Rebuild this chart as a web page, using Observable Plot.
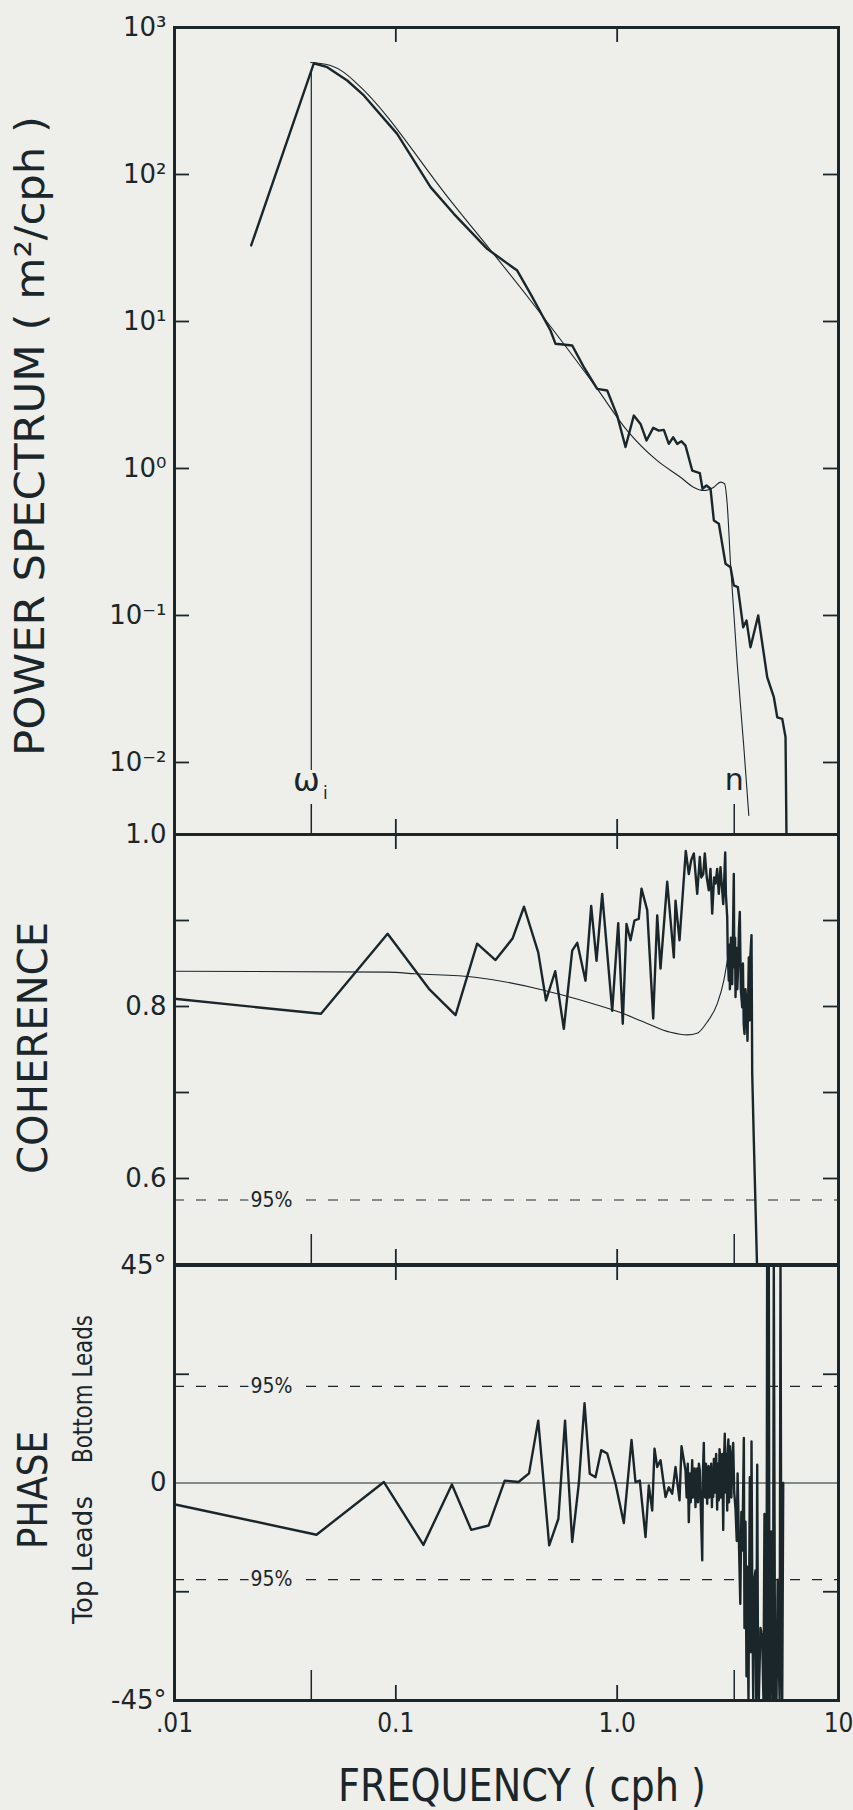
<!DOCTYPE html>
<html>
<head>
<meta charset="utf-8">
<script src="https://cdn.jsdelivr.net/npm/d3@7"></script>
<script src="https://cdn.jsdelivr.net/npm/@observablehq/plot@0.6"></script>
<style>
html, body { margin: 0; padding: 0; background: #eeeeea; }
#wrap { position: relative; width: 853px; height: 1810px; overflow: hidden; background: #eeeeea; }
</style>
</head>
<body>
<div id="wrap"></div>
<script>
// ---------------- data ----------------
// Power spectrum, observed (thick): [frequency cph, m^2/cph]
const spectrumObserved = [
  [0.0222, 32.9], [0.0426, 571], [0.0490, 537], [0.0603, 436], [0.0717, 345],
  [0.1014, 189], [0.1435, 82], [0.1828, 54], [0.2587, 31.2], [0.3535, 22.2],
  [0.406, 15.4], [0.4998, 8.68], [0.5266, 7.05], [0.6264, 6.87], [0.7070, 4.89],
  [0.8126, 3.48], [0.9016, 3.39], [1.0004, 2.29], [1.0906, 1.40], [1.189, 2.29],
  [1.275, 2.01], [1.357, 1.55], [1.455, 1.89], [1.542, 1.81], [1.625, 1.83],
  [1.711, 1.47], [1.792, 1.63], [1.867, 1.47], [1.953, 1.53], [2.036, 1.43],
  [2.183, 0.968], [2.363, 0.929], [2.430, 0.728], [2.533, 0.766], [2.641, 0.728],
  [2.734, 0.443], [2.880, 0.421], [3.087, 0.225], [3.252, 0.213], [3.365, 0.160],
  [3.509, 0.156], [3.711, 0.0832], [3.840, 0.0925], [4.003, 0.0608], [4.337, 0.1],
  [4.764, 0.0380], [5.104, 0.0278], [5.288, 0.0203], [5.569, 0.0198], [5.763, 0.0149],
  [5.823, 0.003]
];
// Power spectrum, model (thin)
const spectrumModel = [
  [0.0412, 578], [0.0507, 551], [0.0580, 497], [0.0669, 414], [0.1766, 66.5],
  [0.406, 13.9], [0.813, 3.48], [1.110, 1.81], [1.517, 1.13], [1.933, 0.872],
  [2.213, 0.746], [2.462, 0.708], [2.733, 0.746], [2.930, 0.807], [3.055, 0.787],
  [3.141, 0.575], [3.251, 0.226], [3.486, 0.0471], [3.735, 0.0127], [3.934, 0.00436]
];
// Coherence, observed (thick)
const coherenceObserved = [
  [0.01, 0.809], [0.0459, 0.7915], [0.0918, 0.8845], [0.1411, 0.8206], [0.1861, 0.790],
  [0.2330, 0.873], [0.2820, 0.854], [0.3367, 0.879], [0.3794, 0.916], [0.4399, 0.863],
  [0.4770, 0.807], [0.5250, 0.841], [0.5741, 0.774], [0.6264, 0.865], [0.6600, 0.874],
  [0.7194, 0.830], [0.7632, 0.917], [0.8067, 0.853], [0.8557, 0.931], [0.9497, 0.795],
  [1.011, 0.897], [1.060, 0.780], [1.102, 0.896], [1.149, 0.877], [1.197, 0.900],
  [1.252, 0.902], [1.288, 0.937], [1.367, 0.912], [1.455, 0.786], [1.517, 0.906],
  [1.570, 0.844], [1.683, 0.945], [1.803, 0.857], [1.835, 0.923], [1.913, 0.877],
  [2.042, 0.981], [2.107, 0.954], [2.160, 0.970], [2.220, 0.978], [2.299, 0.931],
  [2.363, 0.974], [2.400, 0.950], [2.448, 0.954], [2.489, 0.978], [2.540, 0.950],
  [2.594, 0.935], [2.640, 0.960], [2.688, 0.908], [2.740, 0.950], [2.782, 0.943],
  [2.830, 0.960], [2.879, 0.931], [2.930, 0.962], [3.014, 0.919], [3.040, 0.940],
  [3.077, 0.979], [3.100, 0.930], [3.142, 0.904], [3.160, 0.860], [3.194, 0.830],
  [3.215, 0.872], [3.230, 0.820], [3.252, 0.835], [3.265, 0.880], [3.280, 0.870],
  [3.295, 0.830], [3.309, 0.826], [3.330, 0.870], [3.365, 0.954], [3.380, 0.860],
  [3.400, 0.845], [3.410, 0.880], [3.425, 0.811], [3.450, 0.850], [3.470, 0.868],
  [3.490, 0.820], [3.523, 0.850], [3.550, 0.890], [3.582, 0.910], [3.620, 0.820],
  [3.673, 0.799], [3.700, 0.850], [3.730, 0.780], [3.761, 0.768], [3.800, 0.820],
  [3.840, 0.799], [3.880, 0.760], [3.934, 0.857], [3.955, 0.790], [3.975, 0.784],
  [4.000, 0.860], [4.046, 0.883], [4.075, 0.722], [4.144, 0.644], [4.218, 0.567],
  [4.293, 0.49]
];
// Coherence, model (thin)
const coherenceModel = [
  [0.01, 0.841], [0.0918, 0.840], [0.1223, 0.838], [0.2277, 0.834], [0.4658, 0.819],
  [0.5546, 0.814], [0.7842, 0.803], [1.035, 0.793], [1.319, 0.782], [1.742, 0.770],
  [2.073, 0.767], [2.299, 0.769], [2.551, 0.782], [2.831, 0.803], [3.032, 0.830],
  [3.151, 0.855]
];
// Phase (degrees)
const phaseObserved = [
  [0.0102, -4.5], [0.04381, -10.7], [0.08834, 0.2], [0.1332, -12.8], [0.1792, -0.3],
  [0.2191, -9.7], [0.2625, -8.8], [0.3104, 0.5], [0.3583, 0.2], [0.3997, 2.0],
  [0.4399, 12.9], [0.4931, -12.9], [0.5426, -7.4], [0.5814, 12.9], [0.6264, -12.2],
  [0.6711, -0.1], [0.7121, 16.5], [0.7522, 1.9], [0.7982, 1.2], [0.8474, 6.8],
  [0.9016, 6.1], [0.9829, -0.1], [1.0715, -8.3], [1.161, 8.9], [1.210, 0.2],
  [1.266, 0.5], [1.343, -11.2], [1.390, -0.5], [1.440, -5.7], [1.475, 7.1],
  [1.517, 3.3], [1.570, 4.7], [1.654, -2.9], [1.711, -0.9], [1.773, -2.2],
  [1.835, 3.3], [1.913, -3.6], [1.953, 7.6], [2.036, 2.6], [2.060, -3.0],
  [2.085, 4.0], [2.107, -8.1], [2.130, 2.0], [2.150, -4.0], [2.183, 4.7],
  [2.200, -3.0], [2.220, -2.0], [2.240, 3.0], [2.259, -5.0], [2.280, 1.0],
  [2.300, 3.0], [2.320, -4.0], [2.340, 4.0], [2.363, 2.6], [2.390, -6.0],
  [2.423, -16.0], [2.440, 2.0], [2.463, 8.3], [2.480, -2.0], [2.500, -3.0],
  [2.520, 4.0], [2.551, -4.3], [2.570, 3.0], [2.590, 3.5], [2.610, -3.0],
  [2.641, 0.5], [2.660, 4.0], [2.680, -5.0], [2.700, 3.0], [2.716, -2.9],
  [2.735, 5.0], [2.750, 5.0], [2.765, -2.0], [2.782, 3.3], [2.800, 6.0],
  [2.830, -5.5], [2.850, 4.0], [2.879, -3.6], [2.900, 7.0], [2.920, 5.5],
  [2.940, -3.0], [2.961, 3.8], [2.985, 6.0], [3.014, -9.7], [3.040, 5.0],
  [3.064, 10.2], [3.080, 2.0], [3.100, -2.0], [3.120, 6.0], [3.142, -5.7],
  [3.160, 7.0], [3.180, 9.0], [3.200, -4.0], [3.227, 7.6], [3.250, 3.0],
  [3.280, -3.0], [3.310, 6.0], [3.343, 8.3], [3.380, -2.0], [3.425, -5.3],
  [3.470, -12.0], [3.500, 2.0], [3.545, -11.2], [3.600, -25.0], [3.640, -6.0],
  [3.680, -14.0], [3.735, 9.3], [3.760, -30.0], [3.800, -8.0], [3.840, -40.0],
  [3.869, -17.3], [3.920, -45], [3.975, 1.2], [4.010, -35.0], [4.046, 8.6],
  [4.080, -25.0], [4.119, -45], [4.160, -20.0], [4.218, -18.1], [4.250, -45],
  [4.293, 3.8], [4.330, -40.0], [4.365, -45], [4.440, -30.0], [4.521, -31.9],
  [4.580, -45], [4.630, -6.4], [4.680, -45], [4.727, -45], [4.760, 45],
  [4.800, -45], [4.842, 45], [4.880, -45], [4.929, -45], [4.970, -10.0],
  [5.017, -25.0], [5.060, -45], [5.101, 45], [5.170, -45], [5.247, -45],
  [5.310, -20.0], [5.375, -36.7], [5.420, -45], [5.470, 45], [5.520, -30.0],
  [5.569, -45], [5.627, 0]
];

// Reference marks
const OMEGA_I = 0.0415;        // inertial frequency
const OMEGA_TOP = 494;         // where the omega_i line meets the spectrum
const N_FREQ = 3.38;           // buoyancy frequency
const COH_95 = 0.575;          // 95% coherence level
const PHASE_95 = [20, -20];    // 95% phase levels
const LABEL_95_FREQ = 0.0274;

// Scales and tick labels
const X_DOMAIN = [0.01, 10];
const xTickValues = [0.01, 0.1, 1, 10];
const xTickLabels = [".01", "0.1", "1.0", "10"];
const xFrameTicks = [0.1, 1];
const xMarkTicks = [OMEGA_I, N_FREQ];

const specDomain = [Math.pow(10, -2.49), 1000];
const specTicks = [0.01, 0.1, 1, 10, 100];
const specLabelValues = [1000, 100, 10, 1, 0.1, 0.01];
const specLabelText = ["10³", "10²", "10¹", "10⁰", "10⁻¹", "10⁻²"];

const cohDomain = [0.5, 1.0];
const cohTicks = [0.6, 0.7, 0.8, 0.9];
const cohLabelValues = [1.0, 0.8, 0.6];
const cohLabelText = ["1.0", "0.8", "0.6"];

const phaseDomain = [-45, 45];
const phaseTicks = [-22.5, 22.5];
const phaseLabelValues = [45, 0, -45];
const phaseLabelText = ["45°", "0", "-45°"];

// ---------------- style ----------------
const INK = "#1b262b";
const BG = "#eeeeea";
const W = 853, ML = 174, MR = 15;
const innerW = W - ML - MR;
const SANS = "'DejaVu Sans', 'Liberation Sans', sans-serif";
const COND = "'DejaVu Sans Condensed', 'Liberation Sans Narrow', 'DejaVu Sans', sans-serif";

const wrap = document.getElementById("wrap");

function panel({top, height, marginTop, marginBottom, y, yTicks, labelValues, labelText, marks, xAxis}) {
  const innerH = height - marginTop - marginBottom;
  const fmt = d => labelText[labelValues.indexOf(d)];
  const xfmt = d => xTickLabels[xTickValues.indexOf(d)];
  const svg = Plot.plot({
    width: W, height, marginTop, marginBottom, marginLeft: ML, marginRight: MR,
    x: {type: "log", domain: X_DOMAIN, axis: null},
    y: {...y, axis: null},
    style: {position: "absolute", left: "0px", top: top + "px", background: "transparent",
            overflow: "visible", color: INK, fontFamily: SANS},
    marks: [
      ...marks,
      Plot.tickY(yTicks, {y: d => d, insetRight: innerW - 15, stroke: INK, strokeWidth: 1.8}),
      Plot.tickY(yTicks, {y: d => d, insetLeft: innerW - 15, stroke: INK, strokeWidth: 1.8}),
      Plot.tickX(xFrameTicks, {x: d => d, insetBottom: innerH - 15, stroke: INK, strokeWidth: 1.8}),
      Plot.tickX(xFrameTicks, {x: d => d, insetTop: innerH - 15, stroke: INK, strokeWidth: 1.8}),
      Plot.tickX(xMarkTicks, {x: d => d, insetTop: innerH - 30, stroke: INK, strokeWidth: 1.5}),
      Plot.axisY(labelValues, {tickSize: 0, tickPadding: 8, tickFormat: fmt, fontSize: 26,
                               fontFamily: SANS, fill: INK, label: null}),
      xAxis ? Plot.axisX(xTickValues, {tickSize: 0, tickPadding: 13, tickFormat: xfmt, fontSize: 26,
                               fontFamily: COND, fill: INK, label: null}) : null,
      Plot.frame({stroke: INK, strokeWidth: 3})
    ]
  });
  wrap.appendChild(svg);
}

// Panel 1: power spectrum
panel({
  top: 0, height: 840, marginTop: 27, marginBottom: 6,
  y: {type: "log", domain: specDomain},
  yTicks: specTicks, labelValues: specLabelValues, labelText: specLabelText,
  marks: [
    Plot.ruleX([OMEGA_I], {x: d => d, y1: OMEGA_TOP, y2: specDomain[0], insetBottom: 64, stroke: INK, strokeWidth: 1.2}),
    Plot.line(spectrumModel, {x: d => d[0], y: d => d[1], stroke: INK, strokeWidth: 1.1, curve: "monotone-x", clip: true}),
    Plot.line(spectrumObserved, {x: d => d[0], y: d => d[1], stroke: INK, strokeWidth: 2.4, strokeLinejoin: "round", clip: true}),
    Plot.text([OMEGA_I], {x: d => d, frameAnchor: "bottom", dy: -44, dx: -5, text: () => "ω", fontSize: 32, fontFamily: SANS, fill: INK}),
    Plot.text([OMEGA_I], {x: d => d, frameAnchor: "bottom", dy: -36, dx: 14, text: () => "i", fontSize: 17, fontFamily: SANS, fill: INK}),
    Plot.text([N_FREQ], {x: d => d, frameAnchor: "bottom", dy: -45, text: () => "n", fontSize: 30, fontFamily: SANS, fill: INK})
  ]
});

// Panel 2: coherence
panel({
  top: 828, height: 442, marginTop: 6, marginBottom: 6,
  y: {domain: cohDomain},
  yTicks: cohTicks, labelValues: cohLabelValues, labelText: cohLabelText,
  marks: [
    Plot.ruleY([COH_95], {y: d => d, stroke: INK, strokeWidth: 1.1, strokeDasharray: "10,12"}),
    Plot.text([COH_95], {x: () => LABEL_95_FREQ, y: d => d, text: () => "95%", fontSize: 21, fontFamily: COND,
                         fill: INK, stroke: BG, strokeWidth: 8}),
    Plot.line(coherenceModel, {x: d => d[0], y: d => d[1], stroke: INK, strokeWidth: 1.1, curve: "monotone-x", clip: true}),
    Plot.line(coherenceObserved, {x: d => d[0], y: d => d[1], stroke: INK, strokeWidth: 2.4, strokeLinejoin: "round", clip: true})
  ]
});

// Panel 3: phase
panel({
  top: 1258, height: 552, marginTop: 7, marginBottom: 110,
  y: {domain: phaseDomain},
  yTicks: phaseTicks, labelValues: phaseLabelValues, labelText: phaseLabelText,
  xAxis: true,
  marks: [
    Plot.ruleY([0], {y: d => d, stroke: INK, strokeWidth: 1.2}),
    Plot.ruleY(PHASE_95, {y: d => d, stroke: INK, strokeWidth: 1.1, strokeDasharray: "10,12"}),
    Plot.text(PHASE_95, {x: () => LABEL_95_FREQ, y: d => d, text: () => "95%", fontSize: 21, fontFamily: COND,
                         fill: INK, stroke: BG, strokeWidth: 8}),
    Plot.line(phaseObserved, {x: d => d[0], y: d => d[1], stroke: INK, strokeWidth: 2.4, strokeLinejoin: "round", clip: true})
  ]
});

// ---------------- titles ----------------
const titles = [
  {text: "POWER SPECTRUM  ( m²/cph )", x: 44, y: 436, size: 40, len: 640, rot: true},
  {text: "COHERENCE", x: 47, y: 1048, size: 40, len: 252, rot: true},
  {text: "PHASE", x: 47, y: 1490, size: 40, len: 118, rot: true},
  {text: "Bottom Leads", x: 92, y: 1389, size: 27, len: 148, rot: true},
  {text: "Top Leads", x: 92, y: 1560, size: 27, len: 128, rot: true},
  {text: "FREQUENCY ( cph )", x: 522, y: 1801, size: 44, len: 368, rot: false}
];
const ov = d3.select(wrap).append("svg")
  .attr("width", W).attr("height", 1810)
  .style("position", "absolute").style("left", "0px").style("top", "0px")
  .style("pointer-events", "none");
ov.selectAll("text").data(titles).join("text")
  .attr("transform", d => `translate(${d.x},${d.y})` + (d.rot ? " rotate(-90)" : ""))
  .attr("text-anchor", "middle")
  .attr("font-family", COND)
  .attr("font-size", d => d.size)
  .attr("fill", INK)
  .attr("textLength", d => d.len)
  .attr("lengthAdjust", "spacingAndGlyphs")
  .text(d => d.text);
</script>
</body>
</html>
